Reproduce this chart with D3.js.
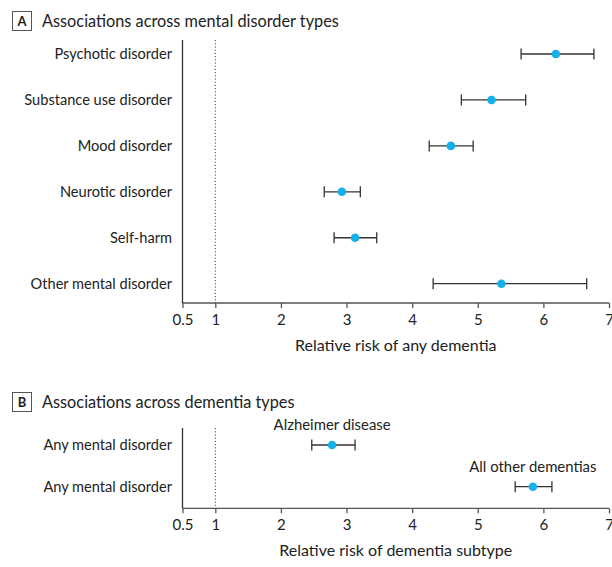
<!DOCTYPE html>
<html>
<head>
<meta charset="utf-8">
<script src="https://cdn.jsdelivr.net/npm/d3@7"></script>
<style>
  body { margin: 0; background: #fff; }
  text { font-family: Lato, "Noto Sans", sans-serif; fill: #222; }
  .axis path, .axis line { stroke: #555; stroke-width: 1.3; }
  .axis text { font-size: 15px; fill: #222; }
</style>
</head>
<body>
<div class="chart"></div>
<script>
// Panel A data: relative risk of any dementia by mental disorder type
var disorderTypes = ["Psychotic disorder", "Substance use disorder", "Mood disorder",
  "Neurotic disorder", "Self-harm", "Other mental disorder"];
var rrA = [6.19, 5.21, 4.59, 2.93, 3.13, 5.36];
var loA = [5.66, 4.75, 4.26, 2.66, 2.81, 4.32];
var hiA = [6.77, 5.73, 4.93, 3.21, 3.46, 6.66];

// Panel B data: any mental disorder by dementia subtype
var rowLabelsB = ["Any mental disorder", "Any mental disorder"];
var subtypes = ["Alzheimer disease", "All other dementias"];
var rrB = [2.78, 5.84];
var loB = [2.47, 5.57];
var hiB = [3.13, 6.13];

var xTicks = [0.5, 1, 2, 3, 4, 5, 6, 7];

var svgWidth = 612;
var svgHeight = 567;

var svg = d3.select(".chart")
  .append("svg")
  .attr("width", svgWidth)
  .attr("height", svgHeight);

// shared x scale (linear)
var x_scale = d3.scaleLinear()
  .domain([0.5, 7])
  .range([182.5, 609]);

var dotColor = "#13b0ec";
var barColor = "#333";

// draws one panel header with the boxed letter
function panelTitle(letter, title, y) {
  svg.append("rect")
    .attr("x", 12.5).attr("y", y - 9.5)
    .attr("width", 19).attr("height", 19)
    .attr("fill", "none").attr("stroke", "#555").attr("stroke-width", 1);
  svg.append("text")
    .attr("x", 22).attr("y", y + 5)
    .attr("text-anchor", "middle")
    .attr("font-size", "13px").attr("font-weight", "bold")
    .text(letter);
  svg.append("text")
    .attr("x", 42).attr("y", y + 6)
    .attr("font-size", "16.3px")
    .text(title);
}

function drawPanel(opts) {
  var g = svg.append("g");
  var y_scale = d3.scalePoint()
    .domain(d3.range(opts.labels.length))
    .range([opts.yFirst, opts.yLast]);

  // x axis
  g.append("g")
    .attr("class", "axis")
    .attr("transform", `translate(0, ${opts.axisY})`)
    .call(d3.axisBottom(x_scale).tickValues(xTicks).tickSize(5).tickPadding(6)
      .tickFormat(d => d === 0.5 ? "0.5" : d3.format("d")(d)))
    .call(a => a.select(".domain").attr("d", `M${x_scale(0.5)},0H${x_scale(7)}`));

  // left vertical line
  g.append("line")
    .attr("x1", x_scale(0.5)).attr("x2", x_scale(0.5))
    .attr("y1", opts.top).attr("y2", opts.axisY)
    .attr("stroke", "#333").attr("stroke-width", 1.3);

  // reference line at 1
  g.append("line")
    .attr("x1", x_scale(1)).attr("x2", x_scale(1))
    .attr("y1", opts.top).attr("y2", opts.axisY)
    .attr("stroke", "#444").attr("stroke-width", 1)
    .attr("stroke-dasharray", "1.2,2");

  // row labels
  g.selectAll(".rowlab")
    .data(opts.labels)
    .enter()
    .append("text")
    .attr("x", 172)
    .attr("y", (d, i) => y_scale(i))
    .attr("dy", "0.35em")
    .attr("text-anchor", "end")
    .attr("font-size", "14.6px")
    .text(d => d);

  var idx = d3.range(opts.labels.length);

  // CI bars
  g.selectAll(".ci")
    .data(idx)
    .enter()
    .append("line")
    .attr("x1", i => x_scale(opts.lo[i]))
    .attr("x2", i => x_scale(opts.hi[i]))
    .attr("y1", i => y_scale(i)).attr("y2", i => y_scale(i))
    .attr("stroke", barColor).attr("stroke-width", 1.3);

  ["lo", "hi"].forEach(function (k) {
    g.selectAll(".cap" + k)
      .data(idx)
      .enter()
      .append("line")
      .attr("x1", i => x_scale(opts[k][i]))
      .attr("x2", i => x_scale(opts[k][i]))
      .attr("y1", i => y_scale(i) - 5.5)
      .attr("y2", i => y_scale(i) + 5.5)
      .attr("stroke", barColor).attr("stroke-width", 1.3);
  });

  // point estimates
  g.selectAll(".dot")
    .data(idx)
    .enter()
    .append("circle")
    .attr("cx", i => x_scale(opts.rr[i]))
    .attr("cy", i => y_scale(i))
    .attr("r", 4.3)
    .attr("fill", dotColor);

  // labels over points (panel B)
  if (opts.pointLabels) {
    g.selectAll(".plab")
      .data(idx)
      .enter()
      .append("text")
      .attr("x", i => x_scale(opts.rr[i]))
      .attr("y", i => y_scale(i) - 15)
      .attr("text-anchor", "middle")
      .attr("font-size", "14.9px")
      .text(i => opts.pointLabels[i]);
  }

  // axis title
  g.append("text")
    .attr("x", x_scale(3.75))
    .attr("y", opts.axisY + 48)
    .attr("text-anchor", "middle")
    .attr("font-size", "16px")
    .text(opts.xTitle);
}

panelTitle("A", "Associations across mental disorder types", 21);
drawPanel({
  labels: disorderTypes, rr: rrA, lo: loA, hi: hiA,
  yFirst: 54, yLast: 283.7, top: 40, axisY: 303,
  xTitle: "Relative risk of any dementia"
});

panelTitle("B", "Associations across dementia types", 402);
drawPanel({
  labels: rowLabelsB, rr: rrB, lo: loB, hi: hiB, pointLabels: subtypes,
  yFirst: 445, yLast: 486.7, top: 428, axisY: 508.3,
  xTitle: "Relative risk of dementia subtype"
});
</script>
</body>
</html>
